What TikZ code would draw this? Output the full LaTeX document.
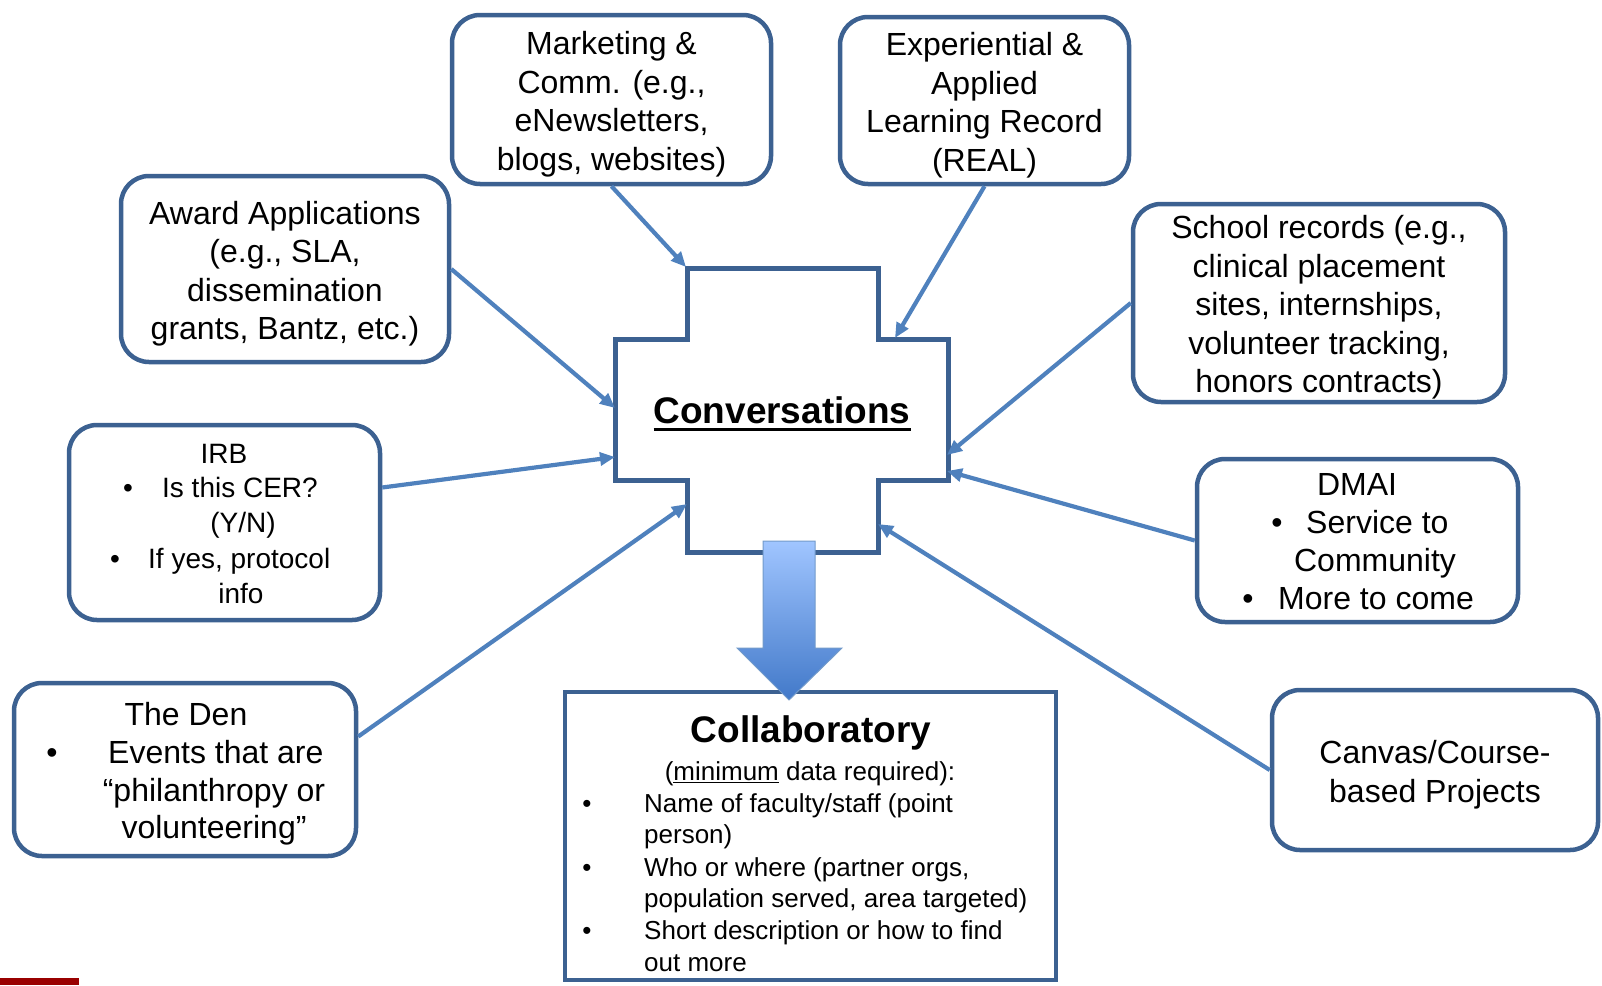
\documentclass[tikz,border=0pt]{standalone}
\usepackage{fontspec}
\setmainfont{Liberation Sans}
\usetikzlibrary{arrows.meta}

\definecolor{boxblue}{RGB}{60,97,145}
\definecolor{linkblue}{RGB}{79,129,189}
\definecolor{arrowtop}{RGB}{160,197,255}
\definecolor{arrowbot}{RGB}{66,121,201}
\definecolor{footred}{RGB}{153,0,0}

% underline of a given depth and thickness
\newcommand\ulrule[3]{\setbox0\hbox{#3}\rlap{\rule[#1]{\wd0}{#2}}\box0\relax}

\begin{document}
\begin{tikzpicture}[x=1pt,y=-1pt,
  roundbox/.style={draw=boxblue,line width=4.5pt,rounded corners=28pt,fill=white,inner sep=0pt},
  boxtext/.style={inner sep=0pt,align=center,font=\fontsize{32}{38.5}\selectfont},
  plainbox/.style={draw=boxblue,line width=4.5pt,fill=white,inner sep=0pt},
  txt/.style={inner sep=0pt,font=\fontsize{32}{38}\selectfont},
  smalltxt/.style={inner sep=0pt,font=\fontsize{28}{35}\selectfont},
  bodytxt/.style={inner sep=0pt,font=\fontsize{26}{31.5}\selectfont},
  link/.style={draw=linkblue,line width=4.2pt,-{Triangle[length=15pt,width=13pt]}}
]
\useasboundingbox (0,0) rectangle (1602,985);

% central cross
\draw[draw=boxblue,line width=5pt,fill=white]
  (687,268) -- (878,268) -- (878,339) -- (948,339) -- (948,480) -- (878,480)
  -- (878,552) -- (687,552) -- (687,480) -- (615,480) -- (615,339) -- (687,339) -- cycle;
\node[inner sep=0pt,anchor=base,font=\fontsize{37}{40}\selectfont\bfseries] (conv) at (782,423)
  {\ulrule{-8pt}{3pt}{Conversations}};

% arrow tips on the cross
\coordinate (tMarket) at (686,267);
\coordinate (tExp)    at (895,338);
\coordinate (tAward)  at (615,408);
\coordinate (tIRB)    at (615,457);
\coordinate (tDen)    at (687,504);
\coordinate (tSchool) at (947,455);
\coordinate (tDMAI)   at (947,471);
\coordinate (tCanvas) at (878,524);

% surrounding sources
\node[roundbox,minimum width=319pt,minimum height=169pt] (market) at (611.5,99.5) {};
\node[roundbox,minimum width=289pt,minimum height=167pt] (exp) at (984.5,100.5) {};
\node[roundbox,minimum width=328pt,minimum height=186pt] (award) at (285,269) {};
\node[roundbox,minimum width=372pt,minimum height=198pt] (school) at (1319,303) {};
\node[roundbox,minimum width=311pt,minimum height=195pt] (irb) at (224.5,522.5) {};
\node[roundbox,minimum width=321pt,minimum height=163pt] (dmai) at (1357.5,540.5) {};
\node[roundbox,minimum width=342pt,minimum height=173pt] (den) at (185,769.5) {};
\node[roundbox,minimum width=326pt,minimum height=160pt] (canvas) at (1435,770) {};

\node[boxtext] (marketT) at ([yshift=-4.5pt]market.center)
  {Marketing \&\\Comm. (e.g.,\\eNewsletters,\\blogs, websites)};
\node[boxtext] (expT) at ([yshift=-4.5pt]exp.center)
  {Experiential \&\\Applied\\Learning Record\\(REAL)};
\node[boxtext] (awardT) at ([yshift=-4.5pt]award.center)
  {Award Applications\\(e.g., SLA,\\dissemination\\grants, Bantz, etc.)};
\node[boxtext] (schoolT) at ([yshift=-4.5pt]school.center)
  {School records (e.g.,\\clinical placement\\sites, internships,\\volunteer tracking,\\honors contracts)};
\node[boxtext] (canvasT) at ([yshift=-4.5pt]canvas.center)
  {Canvas/Course-\\based Projects};

% IRB box text
\node[smalltxt,anchor=base] (irbT) at (224,463) {IRB};
\node[smalltxt,anchor=base] (irbB1) at (128,497) {•};
\node[smalltxt,anchor=base west] (irbL1) at (162,497) {Is this CER?};
\node[smalltxt,anchor=base] (irbL2) at (243,532) {(Y/N)};
\node[smalltxt,anchor=base] (irbB2) at (115,568) {•};
\node[smalltxt,anchor=base west] (irbL3) at (148,568) {If yes, protocol};
\node[smalltxt,anchor=base] (irbL4) at (241,603) {info};

% DMAI box text
\node[txt,anchor=base] (dmaiT) at (1357,495) {DMAI};
\node[txt,anchor=base] (dmaiB1) at (1277,533) {•};
\node[txt,anchor=base west] (dmaiL1) at (1306,533) {Service to};
\node[txt,anchor=base] (dmaiL2) at (1375,571) {Community};
\node[txt,anchor=base] (dmaiB2) at (1248,609) {•};
\node[txt,anchor=base west] (dmaiL3) at (1278,609) {More to come};

% The Den box text
\node[txt,anchor=base] (denT) at (186,725) {The Den};
\node[txt,anchor=base] (denB1) at (52,763) {•};
\node[txt,anchor=base west] (denL1) at (108,763) {Events that are};
\node[txt,anchor=base] (denL2) at (214,801) {“philanthropy or};
\node[txt,anchor=base] (denL3) at (214,838) {volunteering”};

% connectors into the cross
\draw[link] (market.south) -- (tMarket);
\draw[link] (exp.south) -- (tExp);
\draw[link] (award.east) -- (tAward);
\draw[link] ([yshift=35pt]irb.east) -- (tIRB);
\draw[link] ([yshift=33pt]den.east) -- (tDen);
\draw[link] (school.west) -- (tSchool);
\draw[link] (dmai.west) -- (tDMAI);
\draw[link] (canvas.west) -- (tCanvas);

% collaboratory box
\node[plainbox,minimum width=491pt,minimum height=288pt] (collab) at (810.5,836) {};
\node[inner sep=0pt,anchor=base,font=\fontsize{37}{40}\selectfont\bfseries] (collabT) at (811,742) {Collaboratory};
\node[bodytxt,anchor=base] (collabS) at (810,780) {(\ulrule{-3pt}{1.5pt}{minimum} data required):};
\node[bodytxt,anchor=base] (cb1) at (587,812) {•};
\node[bodytxt,anchor=base west] (cl1) at (644,812) {Name of faculty/staff (point};
\node[bodytxt,anchor=base west] (cl2) at (644,843) {person)};
\node[bodytxt,anchor=base] (cb2) at (587,876) {•};
\node[bodytxt,anchor=base west] (cl3) at (644,876) {Who or where (partner orgs,};
\node[bodytxt,anchor=base west] (cl4) at (644,907) {population served, area targeted)};
\node[bodytxt,anchor=base] (cb3) at (587,939) {•};
\node[bodytxt,anchor=base west] (cl5) at (644,939) {Short description or how to find};
\node[bodytxt,anchor=base west] (cl6) at (644,971) {out more};

% block arrow from the cross down to the collaboratory
\shade[top color=arrowtop,bottom color=arrowbot,draw=linkblue!80,line width=1pt]
  (763,541) -- (815,541) -- (815,648) -- (842,648) -- (789,700) -- (737,648) -- (763,648) -- cycle;

% footer mark
\fill[footred] (0,978) rectangle (79,985);
\end{tikzpicture}
\end{document}
